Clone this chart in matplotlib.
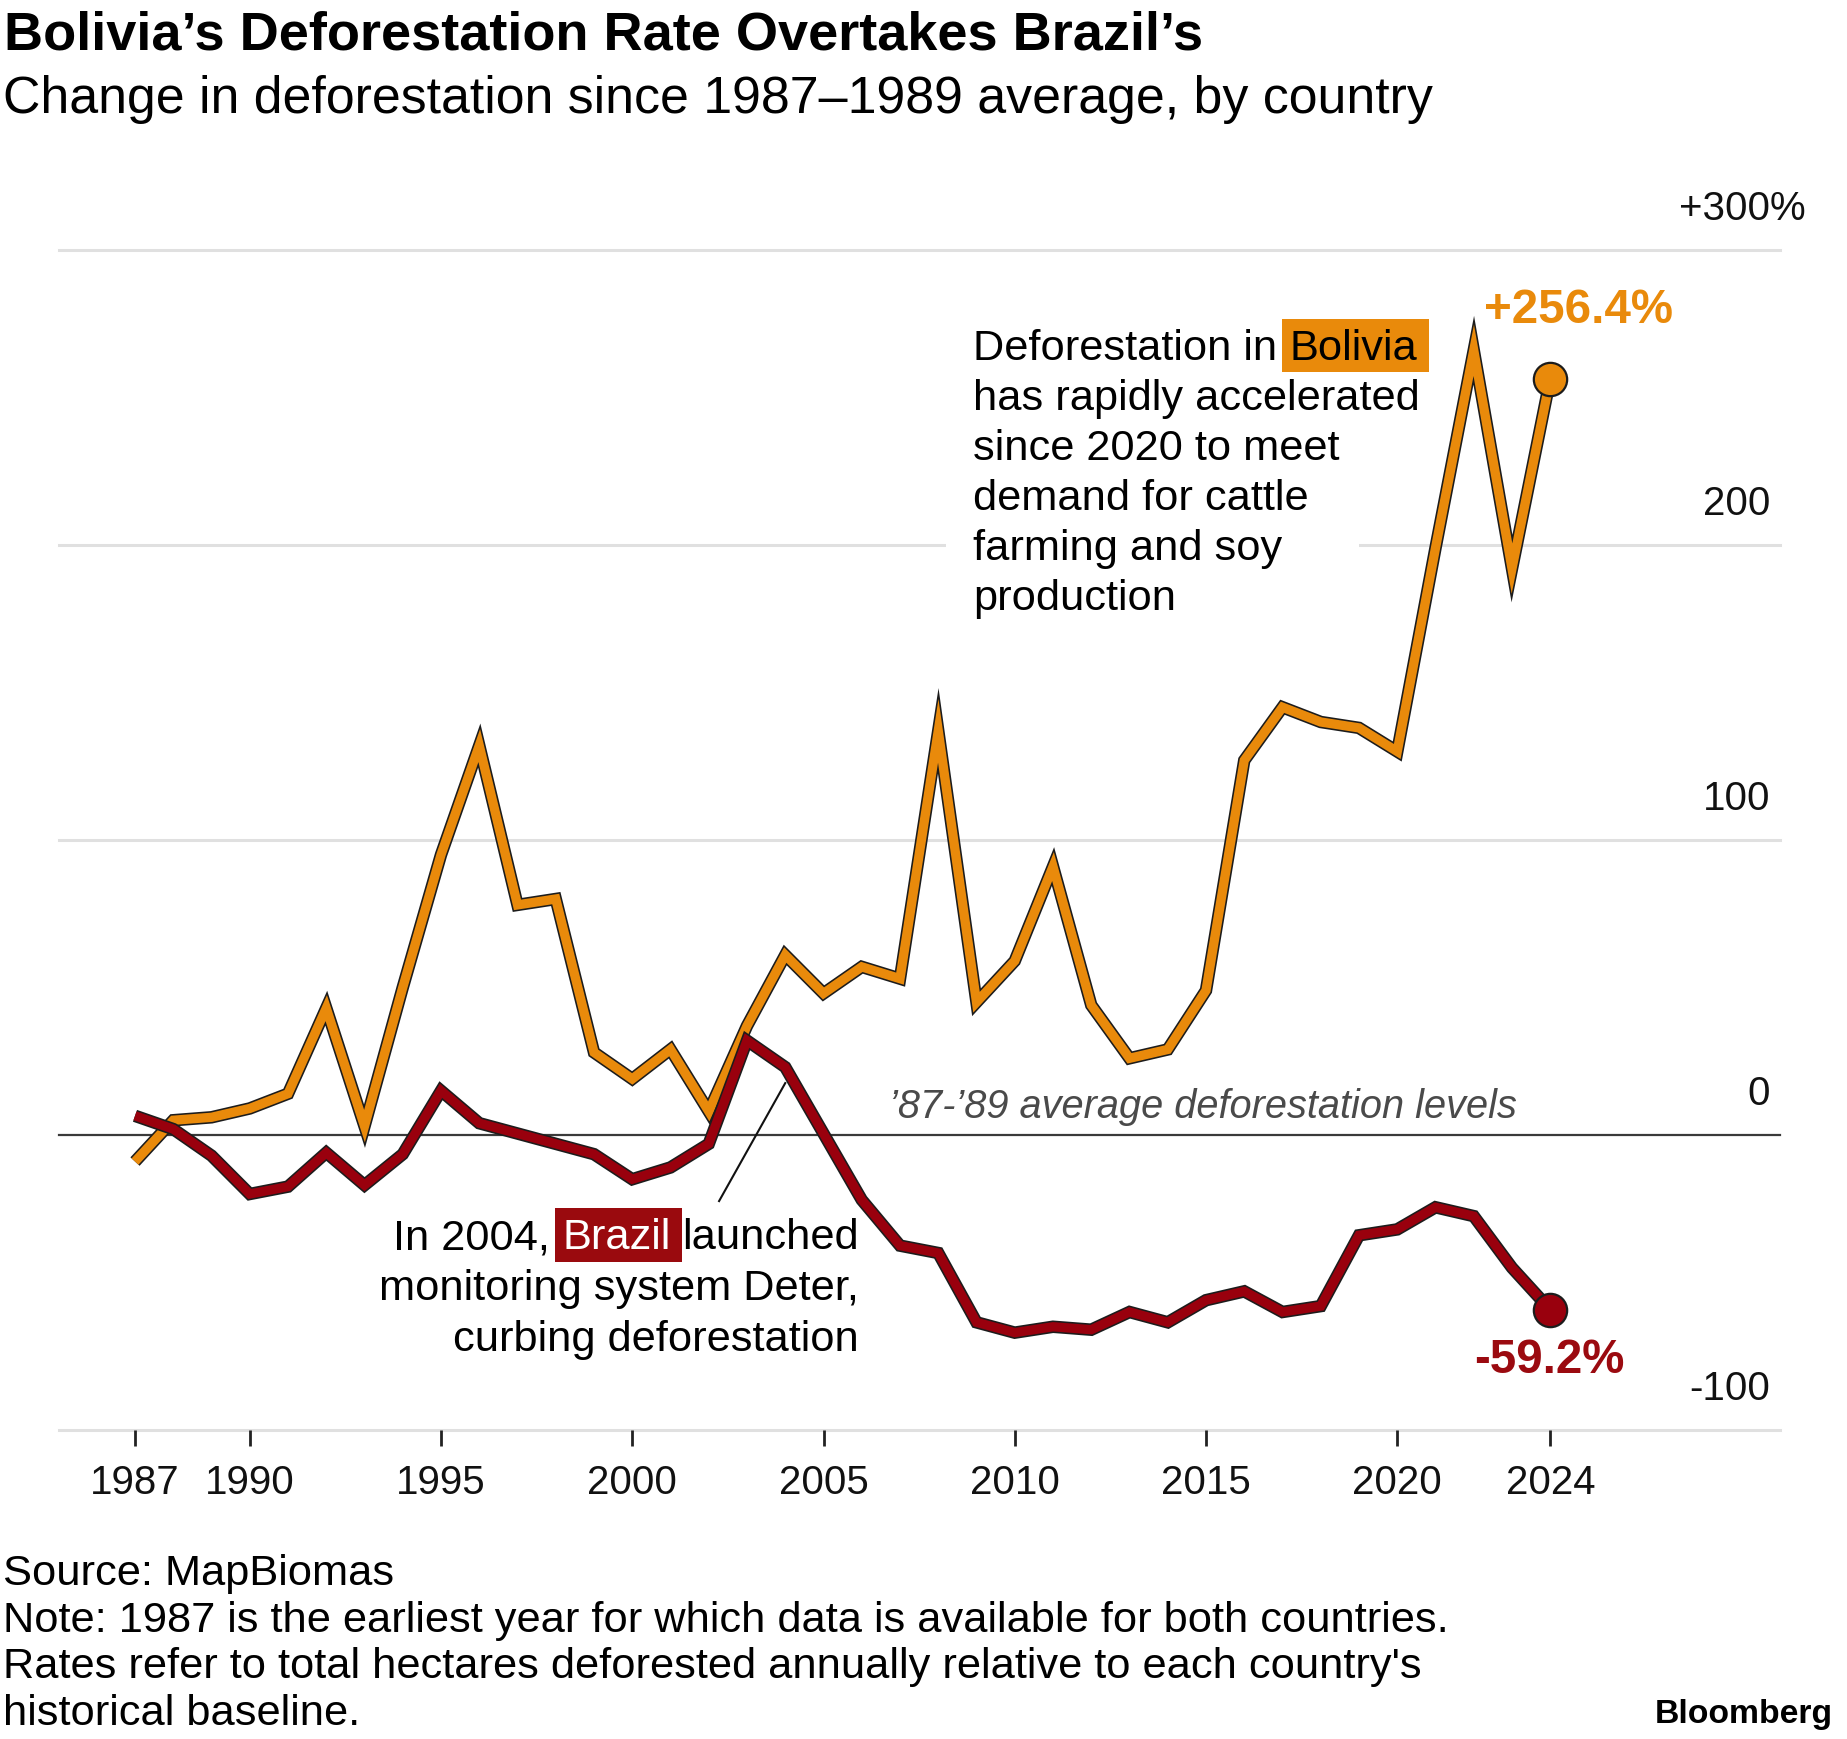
import matplotlib
matplotlib.use("Agg")
import matplotlib.pyplot as plt
import matplotlib.patheffects as pe
from matplotlib.patches import Rectangle

plt.rcParams['font.family'] = ['Liberation Sans', 'DejaVu Sans']

# ---- data ----
years = list(range(1987, 2025))
bolivia = [-9, 5, 6, 9, 14, 43, 3, 50, 95, 132,
           78, 80, 28, 19, 29, 8, 37, 61, 48, 57,
           53, 137, 45, 59, 91, 44, 26, 29, 49, 127,
           145, 140, 138, 130, 199, 266, 192, 256.4]
brazil = [6.5, 2, -7, -20, -17.5, -6, -17, -6.5, 15, 4,
          0.5, -3, -6.5, -15, -11, -3, 32, 23, 0.5, -22,
          -37.5, -40, -63.5, -67, -65, -66, -60, -63.5, -56, -53,
          -60, -58, -34, -32, -24.5, -27.5, -45, -59.2]

tick_years = [1987, 1990, 1995, 2000, 2005, 2010, 2015, 2020, 2024]
grid_values = [-100, 0, 100, 200, 300]
grid_labels = ["-100", "0", "100", "200", "+300"]

bolivia_end_label = "+256.4%"
brazil_end_label = "-59.2%"

title = "Bolivia’s Deforestation Rate Overtakes Brazil’s"
subtitle = "Change in deforestation since 1987–1989 average, by country"
footer = ["Source: MapBiomas",
          "Note: 1987 is the earliest year for which data is available for both countries.",
          "Rates refer to total hectares deforested annually relative to each country's",
          "historical baseline."]

ORANGE = "#e98a0b"
RED = "#99000d"

W, H = 1847, 1740
fig = plt.figure(figsize=(W / 100, H / 100), dpi=100)
renderer = fig.canvas.get_renderer()


def fx(x):
    return x / W


def fy(y):
    return 1 - y / H


def measure(s, size, **kw):
    t = fig.text(0, 0, s, fontsize=size, **kw)
    w = t.get_window_extent(renderer).width
    t.remove()
    return w


def fit(s, width_px, **kw):
    return 20 * width_px / measure(s, 20, **kw)


def draw_line(x, y, parts, size, ha="left"):
    # parts: (text, text colour, box colour or None), joined by single spaces
    full = " ".join(p[0] for p in parts)
    left = x if ha == "left" else x - measure(full, size)
    done = ""
    em = size * 100 / 72
    for text, color, box in parts:
        off = 0
        if done:
            off = measure(done + " " + text[0], size) - measure(text[0], size)
        x0 = left + off
        fig.text(fx(x0), fy(y), text, fontsize=size, color=color,
                 ha="left", va="baseline", zorder=4)
        if box:
            w = measure(text, size)
            fig.patches.append(Rectangle(
                (fx(x0 - 7), fy(y + 0.3 * em)), (w + 19) / W, 1.23 * em / H,
                transform=fig.transFigure, facecolor=box, edgecolor="none",
                zorder=3))
        done = (done + " " + text) if done else text


# ---- axes, placed so the years and values land where the reference has them ----
ax_left, ax_right = 59, 1780
ax = fig.add_axes([fx(ax_left), fy(1431), (ax_right - ax_left) / W, (1431 - 251) / H])
px_per_year = 38.25
ax.set_xlim(1987 - (135 - ax_left) / px_per_year, 1987 + (ax_right - 135) / px_per_year)
ax.set_ylim(-100, 300)
for s in ax.spines.values():
    s.set_visible(False)
ax.set_yticks([])

for v in grid_values:
    if v == 0:
        ax.axhline(v, color="#3a3a3a", lw=1.6, zorder=2, clip_on=False)
    else:
        ax.axhline(v, color="#e0e0e0", lw=2.2, zorder=1, clip_on=False)

# white gap in the 200 gridline behind the Bolivia note
ax.add_patch(Rectangle((2008.2, 195), 10.8, 10, facecolor="white",
                       edgecolor="none", zorder=1.5))

tick_size = 29
label_x = (1770 - ax_left) / (ax_right - ax_left)
for v, lab in zip(grid_values, grid_labels):
    ax.text(label_x, v + 10.5, lab, transform=ax.get_yaxis_transform(),
            ha="right", va="baseline", fontsize=tick_size, color="#111")
ax.text(label_x, grid_values[-1] + 10.5, "%", transform=ax.get_yaxis_transform(),
        ha="left", va="baseline", fontsize=tick_size, color="#111")

ax.set_xticks(tick_years)
ax.set_xticklabels([str(y) for y in tick_years])
ax.tick_params(axis="x", length=11.5, width=2, color="#222", pad=12,
               labelsize=tick_size, labelcolor="#111")

# ---- lines with a thin dark outline ----
outline = [pe.Stroke(linewidth=9.0, foreground="#1c1c1c"), pe.Normal()]
ax.plot(years, bolivia, color=ORANGE, lw=6.7, solid_joinstyle="miter",
        solid_capstyle="butt", path_effects=outline, zorder=3)
ax.plot(years, brazil, color=RED, lw=6.7, solid_joinstyle="miter",
        solid_capstyle="butt", path_effects=outline, zorder=4)
ax.plot(years[-1], bolivia[-1], "o", ms=24, mfc=ORANGE, mec="#1c1c1c", mew=1.6,
        zorder=5, clip_on=False)
ax.plot(years[-1], brazil[-1], "o", ms=24, mfc=RED, mec="#1c1c1c", mew=1.6,
        zorder=5, clip_on=False)

end_size = fit(bolivia_end_label, 189, weight="bold")
ax.annotate(bolivia_end_label, (years[-1], bolivia[-1]), xytext=(20.5, 41),
            textcoords="offset points", ha="center", va="baseline",
            fontsize=end_size, weight="bold", color=ORANGE)
ax.annotate(brazil_end_label, (years[-1], brazil[-1]), xytext=(-1, -44.6),
            textcoords="offset points", ha="center", va="baseline",
            fontsize=end_size, weight="bold", color="#9b0a10")

# baseline label
base_label = "’87-’89 average deforestation levels"
ax.text(2006.7, 6.1, base_label, ha="left", va="baseline",
        fontsize=fit(base_label, 625, style="italic"), style="italic",
        color="#4a4a4a", zorder=3)

# leader line for the Brazil note
ax.plot([2002.27, 2004.0], [-22.4, 17.6], color="#111", lw=1.5, zorder=2.5)

# ---- annotations ----
bol_lines = [[("Deforestation in", "black", None), ("Bolivia", "black", ORANGE)],
             [("has rapidly accelerated", "black", None)],
             [("since 2020 to meet", "black", None)],
             [("demand for cattle", "black", None)],
             [("farming and soy", "black", None)],
             [("production", "black", None)]]
note_size = fit("has rapidly accelerated", 445)
for i, parts in enumerate(bol_lines):
    draw_line(973, 360 + 50 * i, parts, note_size)

bra_lines = [[("In 2004,", "black", None), ("Brazil", "white", "#9a0a0e"),
              ("launched", "black", None)],
             [("monitoring system Deter,", "black", None)],
             [("curbing deforestation", "black", None)]]
bra_size = fit("monitoring system Deter,", 479)
for i, parts in enumerate(bra_lines):
    draw_line(859, 1249.5 + 51 * i, parts, bra_size, ha="right")

# ---- titles and footer ----
fig.text(fx(4), fy(50), title, fontsize=fit(title, 1196, weight="bold"),
         weight="bold", va="baseline", color="black")
fig.text(fx(3), fy(112.5), subtitle, fontsize=fit(subtitle, 1427),
         va="baseline", color="black")

foot_size = fit(footer[1], 1440)
for i, line in enumerate(footer):
    fig.text(fx(3), fy(1585 + 46.7 * i), line, fontsize=foot_size,
             va="baseline", color="black")
fig.text(fx(1833), fy(1723), "Bloomberg",
         fontsize=fit("Bloomberg", 178, weight="bold"), weight="bold",
         ha="right", va="baseline", color="black")

fig.savefig("out.png", dpi=100, facecolor="white")
